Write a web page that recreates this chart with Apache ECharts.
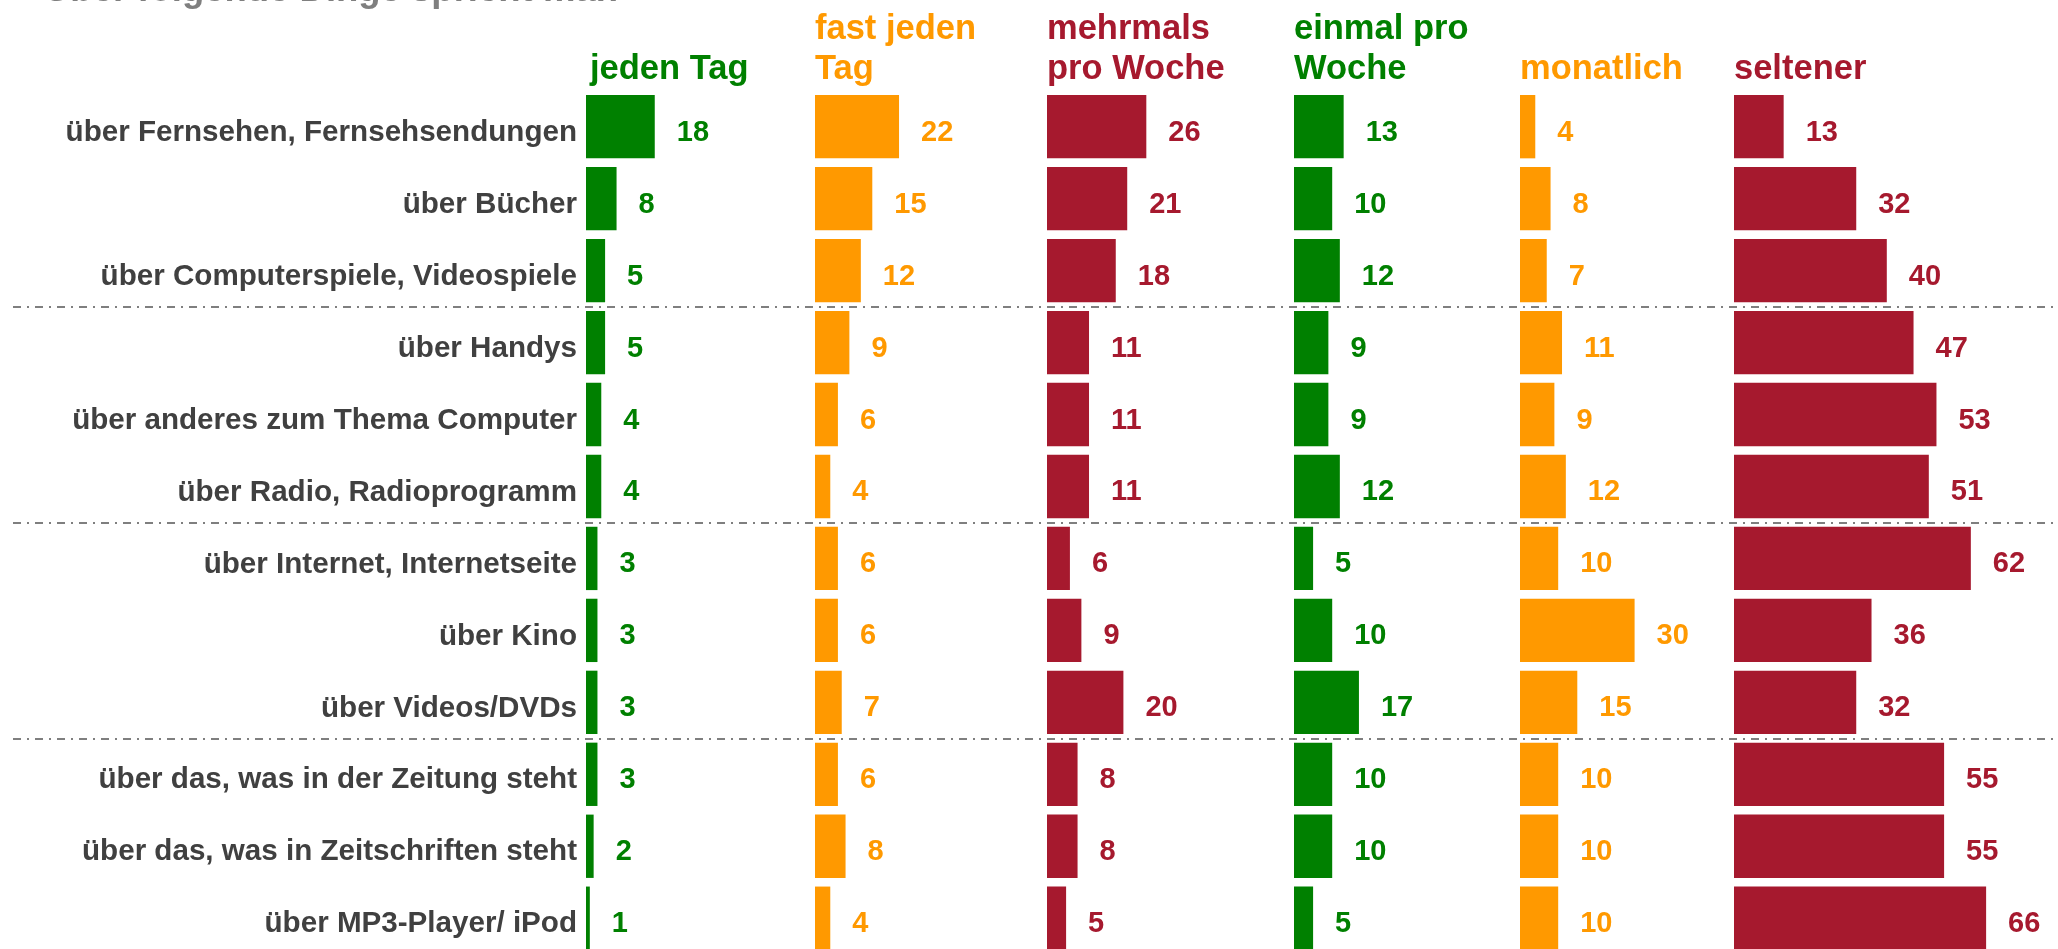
<!DOCTYPE html>
<html>
<head>
<meta charset="utf-8">
<title>Über folgende Dinge spricht man</title>
<script src="https://cdn.jsdelivr.net/npm/echarts@6/dist/echarts.min.js"></script>
<style>
  html, body { margin: 0; padding: 0; background: #ffffff; }
  #chart { width: 2058px; height: 949px; }
</style>
</head>
<body>
<div id="chart"></div>
<script>
// Topics (rows, top to bottom)
const categories = [
  'über Fernsehen, Fernsehsendungen',
  'über Bücher',
  'über Computerspiele, Videospiele',
  'über Handys',
  'über anderes zum Thema Computer',
  'über Radio, Radioprogramm',
  'über Internet, Internetseite',
  'über Kino',
  'über Videos/DVDs',
  'über das, was in der Zeitung steht',
  'über das, was in Zeitschriften steht',
  'über MP3-Player/ iPod'
];

// Frequency columns
const columnNames = [
  'jeden Tag',
  'fast jeden\nTag',
  'mehrmals\npro Woche',
  'einmal pro\nWoche',
  'monatlich',
  'seltener'
];

// Percent values per column
const jedenTag      = [18, 8, 5, 5, 4, 4, 3, 3, 3, 3, 2, 1];
const fastJedenTag  = [22, 15, 12, 9, 6, 4, 6, 6, 7, 6, 8, 4];
const mehrmalsWoche = [26, 21, 18, 11, 11, 11, 6, 9, 20, 8, 8, 5];
const einmalWoche   = [13, 10, 12, 9, 9, 12, 5, 10, 17, 10, 10, 5];
const monatlich     = [4, 8, 7, 11, 9, 12, 10, 30, 15, 10, 10, 10];
const seltener      = [13, 32, 40, 47, 53, 51, 62, 36, 32, 55, 55, 66];

// Rows after which a separator is drawn
const groupBreaks = [3, 6, 9];

const seriesValues = [jedenTag, fastJedenTag, mehrmalsWoche, einmalWoche, monatlich, seltener];
const colors = ['#008000', '#FF9900', '#A6192E', '#008000', '#FF9900', '#A6192E'];

// Layout
const W = 2058;
const FONT = '"Liberation Sans", Arial, Helvetica, sans-serif';
const gridTop = 90.7;
const gridHeight = 863.5;
const columnLeft = [586, 815, 1047, 1294, 1520, 1734];
const headerShift = [4, 0, 0, 0, 0, 0];
const pxPerUnit = 3.82;

const chart = echarts.init(document.getElementById('chart'), null, { renderer: 'canvas' });

const grids = [];
const xAxes = [];
const yAxes = [];
const series = [];
const titles = [];

// Full-width grid that carries the dash-dot group separators
grids.push({ left: 13, right: 0, top: gridTop, height: gridHeight, outerBoundsMode: 'none', containLabel: false });
xAxes.push({ gridIndex: 0, type: 'value', show: false, min: 0, max: 1 });
yAxes.push({
  gridIndex: 0, type: 'category', data: categories, inverse: true,
  axisLine: { show: false }, axisTick: { show: false }, axisLabel: { show: false },
  splitLine: {
    show: true,
    interval: function (index) { return groupBreaks.indexOf(index) !== -1; },
    lineStyle: { color: '#555555', width: 1.5, type: [8, 6, 2, 6] }
  }
});

// Main title (runs off the top edge)
titles.push({
  text: 'Über folgende Dinge spricht man',
  left: 44, top: -27, padding: 0,
  textStyle: { fontFamily: FONT, fontSize: 36.5, fontWeight: 'bold', color: '#7F7F7F', lineHeight: 36 }
});

for (let i = 0; i < 6; i++) {
  const gi = i + 1;
  const left = columnLeft[i];
  const right = i < 5 ? columnLeft[i + 1] : W;
  const width = right - left;
  grids.push({ left: left, top: gridTop, width: width, height: gridHeight, outerBoundsMode: 'none', containLabel: false });
  xAxes.push({ gridIndex: gi, type: 'value', show: false, min: 0, max: width / pxPerUnit });
  yAxes.push({
    gridIndex: gi, type: 'category', data: categories, inverse: true,
    axisLine: { show: false }, axisTick: { show: false }, splitLine: { show: false },
    axisLabel: {
      show: i === 0, margin: 9, verticalAlign: 'top', lineHeight: 12,
      fontFamily: FONT, fontSize: 29.6, fontWeight: 'bold', color: '#404040'
    }
  });
  series.push({
    type: 'bar', name: columnNames[i].replace('\n', ' '),
    xAxisIndex: gi, yAxisIndex: gi,
    data: seriesValues[i],
    barCategoryGap: '12%',
    itemStyle: { color: colors[i] },
    label: {
      show: true, position: 'right', distance: 22, offset: [0, 6], formatter: '{c}',
      fontFamily: FONT, fontSize: 29, fontWeight: 'bold', color: colors[i]
    },
    emphasis: { disabled: true },
    animation: false
  });
  const twoLines = columnNames[i].indexOf('\n') !== -1;
  titles.push({
    text: columnNames[i],
    left: left + headerShift[i], top: twoLines ? 9 : 49, padding: 0,
    textStyle: { fontFamily: FONT, fontSize: 34.5, fontWeight: 'bold', color: colors[i], lineHeight: 40 }
  });
}

chart.setOption({
  animation: false,
  backgroundColor: '#ffffff',
  title: titles,
  grid: grids,
  xAxis: xAxes,
  yAxis: yAxes,
  series: series
});
</script>
</body>
</html>
